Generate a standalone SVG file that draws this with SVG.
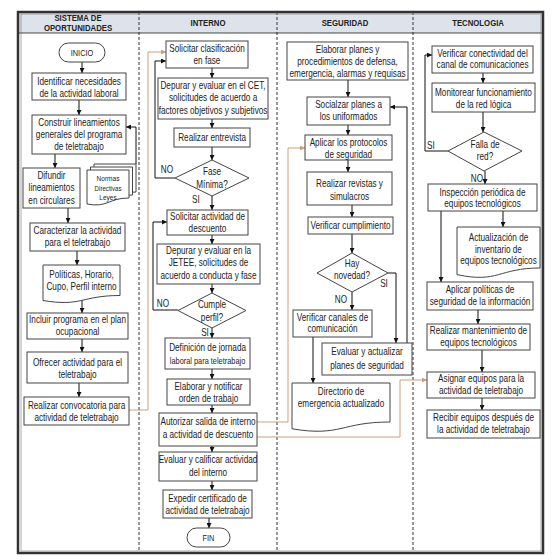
<svg xmlns="http://www.w3.org/2000/svg" width="559" height="560" viewBox="0 0 559 560">
<defs>
<marker id="ah" markerWidth="5" markerHeight="5" refX="5" refY="2.5" orient="auto" markerUnits="userSpaceOnUse"><path d="M0,0 L5,2.5 L0,5 z" fill="#111"/></marker>
<marker id="aht" markerWidth="5" markerHeight="5" refX="5" refY="2.5" orient="auto" markerUnits="userSpaceOnUse"><path d="M0,0 L5,2.5 L0,5 z" fill="#c9a27a"/></marker>
<style>
.b{fill:#fff;stroke:#444;stroke-width:1}
.t,.h,.l{font-family:"Liberation Sans Narrow","Arial Narrow","Liberation Sans",sans-serif;text-anchor:middle;fill:#222;transform-box:fill-box;transform-origin:center;transform:scaleX(.82)}
.t{font-size:10px}
.s{font-size:9px}
.h{font-size:9.5px;font-weight:bold}
.l{font-size:10px}
.c{fill:none;stroke:#111;stroke-width:1;marker-end:url(#ah)}
.ct{fill:none;stroke:#c9a27a;stroke-width:1;marker-end:url(#aht)}
.d{stroke:#333;stroke-width:1;stroke-dasharray:3,2}
</style>
</defs>
<rect x="0" y="0" width="559" height="560" fill="#fff"/>
<g id="frame">
<rect x="18" y="12" width="525" height="21" fill="#dde3ea"/>
<line x1="18" y1="33" x2="543" y2="33" stroke="#444" stroke-width="1"/>
<line class="d" x1="139" y1="12" x2="139" y2="553"/>
<line class="d" x1="277" y1="12" x2="277" y2="553"/>
<line class="d" x1="413" y1="12" x2="413" y2="553"/>
<rect x="18" y="12" width="525" height="541" fill="none" stroke="#333" stroke-width="2.5"/>
<rect x="21" y="14" width="520" height="537" fill="none" stroke="#777" stroke-width="0.6"/>
<text class="h" x="78" y="21">SISTEMA DE</text>
<text class="h" x="78" y="31.5">OPORTUNIDADES</text>
<text class="h" x="208" y="26">INTERNO</text>
<text class="h" x="345" y="26">SEGURIDAD</text>
<text class="h" x="478" y="26">TECNOLOGIA</text>
</g>
<g id="connectors">
<path class="c" d="M82,62 V73"/>
<path class="c" d="M79,100 V115"/>
<path class="c" d="M55,154 V168"/>
<path class="c" d="M68,208 V223"/>
<path class="c" d="M77,251 V265"/>
<path class="c" d="M82,300 V313"/>
<path class="c" d="M82,339 V352"/>
<path class="c" d="M79,383 V397"/>
<path class="c" d="M136,164 V127 H126"/>
<path class="c" d="M212,68 V78"/>
<path class="c" d="M212,119 V128"/>
<path class="c" d="M212,147 V160"/>
<path class="c" d="M175,178 H155 V61 H166"/>
<path class="c" d="M212,196 V210"/>
<path class="c" d="M212,235 V244"/>
<path class="c" d="M212,284 V293"/>
<path class="c" d="M178,310 H153 V222 H167"/>
<path class="c" d="M212,328 V338"/>
<path class="c" d="M212,369 V379"/>
<path class="c" d="M212,405 V413"/>
<path class="c" d="M212,446 V452"/>
<path class="c" d="M212,481 V490"/>
<path class="c" d="M209,518 V528"/>
<path class="c" d="M348,80 V97"/>
<path class="c" d="M348,125 V135"/>
<path class="c" d="M348,160 V172"/>
<path class="c" d="M352,205 V217"/>
<path class="c" d="M352,234 V253"/>
<path class="c" d="M388,273 H396 V343"/>
<path class="c" d="M352,292 V310"/>
<path class="c" d="M313,337 V383"/>
<path class="c" d="M407,343 V107 H390"/>
<path class="c" d="M483,73 V83"/>
<path class="c" d="M483,112 V132"/>
<path class="c" d="M448,151 H425 V55 H432"/>
<path class="c" d="M485,171 V184"/>
<path class="c" d="M503,211 V227"/>
<path class="c" d="M441,211 V282"/>
<path class="c" d="M478,310 V324"/>
<path class="c" d="M482,350 V372"/>
<path class="c" d="M482,398 V410"/>
<path class="ct" d="M129,410 H148 V52 H166"/>
<path class="ct" d="M257,422 H288 V148 H305"/>
<path class="ct" d="M257,437 H400 V380 H427"/>
<text class="l" x="167" y="173">NO</text>
<text class="l" x="196" y="203">SI</text>
<text class="l" x="163" y="307">NO</text>
<text class="l" x="205" y="336">SI</text>
<text class="l" x="384" y="287">SI</text>
<text class="l" x="341" y="303">NO</text>
<text class="l" x="431" y="149">SI</text>
<text class="l" x="477" y="182">NO</text>
</g>
<g id="n-inicio"><rect class="b" x="59" y="43" width="46" height="19" rx="9.5"/><text class="t s" x="82" y="56">INICIO</text></g>
<g id="n-identificar"><rect class="b" x="32" y="73" width="94" height="27"/><text class="t" x="79" y="85.5">Identificar necesidades</text><text class="t" x="79" y="97">de la actividad laboral</text></g>
<g id="n-construir"><rect class="b" x="32" y="115" width="94" height="39"/><text class="t" x="79" y="126.5">Construir lineamientos</text><text class="t" x="79" y="138.5">generales del programa</text><text class="t" x="79" y="150.5">de teletrabajo</text></g>
<g id="n-difundir"><rect class="b" x="23" y="168" width="57" height="40"/><text class="t" x="51.5" y="179">Difundir</text><text class="t" x="51.5" y="191.5">lineamientos</text><text class="t" x="51.5" y="204">en circulares</text></g>
<g id="n-normas">
<path class="b" d="M94,164 H136 V192 C115,192 115,202 94,198 Z"/>
<path class="b" d="M90.5,167 H132.5 V195 C111.5,195 111.5,205 90.5,201 Z"/>
<path class="b" d="M87,170 H129 V198 C108,198 108,208 87,204 Z"/>
<text class="t" x="108" y="181" style="font-size:8px">Normas</text><text class="t" x="108" y="191" style="font-size:7.5px">Directivas</text><text class="t" x="108" y="200" style="font-size:8px">Leyes</text></g>
<g id="n-caracterizar"><rect class="b" x="30" y="223" width="95" height="28"/><text class="t" x="77.5" y="234">Caracterizar la actividad</text><text class="t" x="77.5" y="246">para el teletrabajo</text></g>
<g id="n-politicas"><path class="b" d="M43,265 H120 V295.5 C81.5,295.5 81.5,307 43,300.5 Z"/><text class="t" x="81.5" y="278.5">Políticas, Horario,</text><text class="t" x="81.5" y="290">Cupo, Perfil interno</text></g>
<g id="n-incluir"><rect class="b" x="27" y="313" width="101" height="26"/><text class="t" x="77.5" y="323.5">Incluir programa en el plan</text><text class="t" x="77.5" y="335.5">ocupacional</text></g>
<g id="n-ofrecer"><rect class="b" x="27" y="352" width="101" height="31"/><text class="t" x="77.5" y="366">Ofrecer actividad para el</text><text class="t" x="77.5" y="378">teletrabajo</text></g>
<g id="n-convocatoria"><rect class="b" x="24" y="397" width="105" height="28"/><text class="t" x="76.5" y="409.5">Realizar convocatoria para</text><text class="t" x="76.5" y="421">actividad de teletrabajo</text></g>
<g id="n-solicitar-clasif"><rect class="b" x="166" y="41" width="82" height="27"/><text class="t" x="207" y="52">Solicitar clasificación</text><text class="t" x="207" y="64">en fase</text></g>
<g id="n-depurar-cet"><rect class="b" x="158" y="78" width="110" height="41"/><text class="t" x="213" y="89">Depurar y evaluar en el CET,</text><text class="t" x="213" y="101.5">solicitudes de acuerdo a</text><text class="t" x="213" y="114">factores objetivos y subjetivos</text></g>
<g id="n-entrevista"><rect class="b" x="174" y="128" width="76" height="19"/><text class="t" x="212" y="141">Realizar entrevista</text></g>
<g id="n-fase"><path class="b" d="M212,160 L249,178 L212,196 L175,178 Z"/><text class="t" x="212" y="175">Fase</text><text class="t" x="212" y="188">Mínima?</text></g>
<g id="n-solicitar-act"><rect class="b" x="167" y="210" width="81" height="25"/><text class="t" x="207.5" y="220.5">Solicitar actividad de</text><text class="t" x="207.5" y="232">descuento</text></g>
<g id="n-depurar-jetee"><rect class="b" x="157" y="244" width="103" height="40"/><text class="t" x="208.5" y="254">Depurar y evaluar en la</text><text class="t" x="208.5" y="266.5">JETEE, solicitudes de</text><text class="t" x="208.5" y="279">acuerdo a conducta y fase</text></g>
<g id="n-cumple"><path class="b" d="M212,293 L246,310.5 L212,328 L178,310.5 Z"/><text class="t" x="212" y="308.5">Cumple</text><text class="t" x="212" y="321.5">perfil?</text></g>
<g id="n-definicion"><rect class="b" x="165" y="338" width="85" height="31"/><text class="t" x="207.5" y="351">Definición de jornada</text><text class="t s" x="207.5" y="364">laboral para teletrabajo</text></g>
<g id="n-elaborar-orden"><rect class="b" x="167" y="379" width="83" height="26"/><text class="t" x="208.5" y="390">Elaborar y notificar</text><text class="t" x="208.5" y="402">orden de trabajo</text></g>
<g id="n-autorizar"><rect class="b" x="159" y="413" width="98" height="33"/><text class="t" x="208" y="425.5">Autorizar salida de interno</text><text class="t" x="208" y="438.5">a actividad de descuento</text></g>
<g id="n-evaluar-calif"><rect class="b" x="159" y="452" width="98" height="29"/><text class="t" x="208" y="463">Evaluar y calificar actividad</text><text class="t" x="208" y="476">del interno</text></g>
<g id="n-expedir"><rect class="b" x="163" y="490" width="89" height="28"/><text class="t" x="207.5" y="502.5">Expedir certificado de</text><text class="t" x="207.5" y="514.5">actividad de teletrabajo</text></g>
<g id="n-fin"><rect class="b" x="187" y="528" width="43" height="19" rx="9.5"/><text class="t s" x="208.5" y="541">FIN</text></g>
<g id="n-elaborar-planes"><rect class="b" x="287" y="42" width="121" height="38"/><text class="t" x="347.5" y="53.5">Elaborar planes y</text><text class="t" x="347.5" y="65.5">procedimientos de defensa,</text><text class="t" x="347.5" y="77">emergencia, alarmas y requisas</text></g>
<g id="n-socializar"><rect class="b" x="307" y="97" width="83" height="28"/><text class="t" x="348.5" y="108.5">Socialzar planes a</text><text class="t" x="348.5" y="120.5">los uniformados</text></g>
<g id="n-protocolos"><rect class="b" x="305" y="135" width="87" height="25"/><text class="t" x="348.5" y="146.5">Aplicar los protocolos</text><text class="t" x="348.5" y="158.5">de seguridad</text></g>
<g id="n-revistas"><rect class="b" x="307" y="172" width="85" height="33"/><text class="t" x="349.5" y="187">Realizar revistas y</text><text class="t" x="349.5" y="200">simulacros</text></g>
<g id="n-cumplimiento"><rect class="b" x="308" y="217" width="85" height="17"/><text class="t" x="350.5" y="229">Verificar cumplimiento</text></g>
<g id="n-novedad"><path class="b" d="M352,253 L388,273 L352,292 L317,273 Z"/><text class="t" x="352" y="267">Hay</text><text class="t" x="352" y="279">novedad?</text></g>
<g id="n-canales"><rect class="b" x="293" y="310" width="79" height="27"/><text class="t" x="332.5" y="321">Verificar canales de</text><text class="t" x="332.5" y="332.5">comunicación</text></g>
<g id="n-actualizar"><rect class="b" x="322" y="343" width="90" height="32"/><text class="t" x="367" y="355">Evaluar y actualizar</text><text class="t" x="367" y="369">planes de seguridad</text></g>
<g id="n-directorio"><path class="b" d="M292,383 H390 V422 C341,422 341,437 292,428.8 Z"/><text class="t" x="341" y="395.5">Directorio de</text><text class="t" x="341" y="407">emergencia actualizado</text></g>
<g id="n-conectividad"><rect class="b" x="432" y="46" width="101" height="27"/><text class="t" x="482.5" y="57">Verificar conectividad del</text><text class="t" x="482.5" y="68.5">canal de comunicaciones</text></g>
<g id="n-monitorear"><rect class="b" x="432" y="83" width="103" height="29"/><text class="t" x="483.5" y="96">Monitorear funcionamiento</text><text class="t" x="483.5" y="108">de la red lógica</text></g>
<g id="n-falla"><path class="b" d="M484,132 L522,151 L484,171 L448,151 Z"/><text class="t" x="485" y="148.5">Falla de</text><text class="t" x="485" y="160.5">red?</text></g>
<g id="n-inspeccion"><rect class="b" x="428" y="184" width="109" height="27"/><text class="t" x="482.5" y="196">Inspección periódica de</text><text class="t" x="482.5" y="207.5">equipos tecnológicos</text></g>
<g id="n-inventario"><path class="b" d="M457,227 H540 V268 C498.5,268 498.5,283.5 457,274.6 Z"/><text class="t" x="498.5" y="241.5">Actualización de</text><text class="t" x="498.5" y="253">inventario de</text><text class="t" x="498.5" y="264">equipos tecnológicos</text></g>
<g id="n-politicas-seg"><rect class="b" x="427" y="282" width="106" height="28"/><text class="t" x="480" y="293.5">Aplicar políticas de</text><text class="t" x="480" y="305.5">seguridad de la información</text></g>
<g id="n-mantenimiento"><rect class="b" x="427" y="324" width="103" height="26"/><text class="t" x="478.5" y="334">Realizar mantenimiento de</text><text class="t" x="478.5" y="346">equipos tecnológicos</text></g>
<g id="n-asignar"><rect class="b" x="427" y="372" width="108" height="26"/><text class="t" x="481" y="382.5">Asignar equipos para la</text><text class="t" x="481" y="394.5">actividad de teletrabajo</text></g>
<g id="n-recibir"><rect class="b" x="427" y="410" width="113" height="28"/><text class="t" x="483.5" y="421.5">Recibir equipos después de</text><text class="t" x="483.5" y="433.5">la actividad de teletrabajo</text></g>
</svg>
